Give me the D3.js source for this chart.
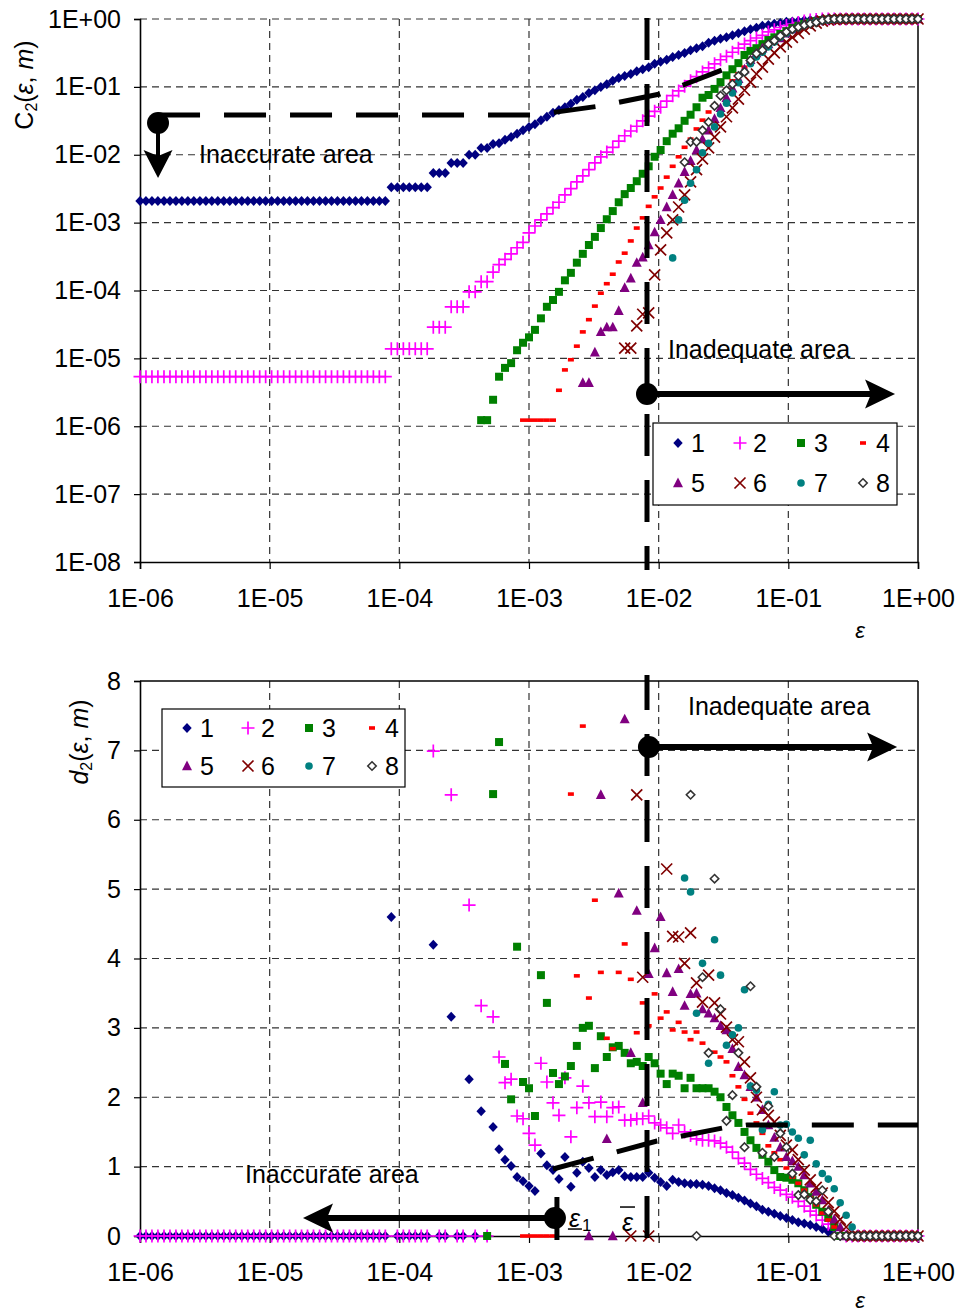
<!DOCTYPE html>
<html><head><meta charset="utf-8">
<script src="https://cdn.jsdelivr.net/npm/d3@7"></script>
<style>body{margin:0;background:#fff}svg{display:block}text{font-family:"Liberation Sans",Arial,sans-serif;fill:#000}</style>
</head><body><svg id="chart"></svg>
<script>
// ---------- DATA ----------
// log10(epsilon) of each point index k
const epsExp = [-6.000,-5.954,-5.908,-5.862,-5.815,-5.769,-5.723,-5.677,-5.631,-5.585,-5.538,-5.492,-5.446,-5.400,-5.354,-5.308,-5.262,-5.215,-5.169,-5.123,-5.077,-5.031,-4.985,-4.938,-4.892,-4.846,-4.800,-4.754,-4.708,-4.662,-4.615,-4.569,-4.523,-4.477,-4.431,-4.385,-4.338,-4.292,-4.246,-4.200,-4.154,-4.108,-4.062,-4.015,-3.969,-3.923,-3.877,-3.831,-3.785,-3.738,-3.692,-3.646,-3.600,-3.554,-3.508,-3.462,-3.415,-3.369,-3.323,-3.277,-3.231,-3.185,-3.138,-3.092,-3.046,-3.000,-2.954,-2.908,-2.862,-2.815,-2.769,-2.723,-2.677,-2.631,-2.585,-2.538,-2.492,-2.446,-2.400,-2.354,-2.308,-2.262,-2.215,-2.169,-2.123,-2.077,-2.031,-1.985,-1.938,-1.892,-1.846,-1.800,-1.754,-1.708,-1.662,-1.615,-1.569,-1.523,-1.477,-1.431,-1.385,-1.338,-1.292,-1.246,-1.200,-1.154,-1.108,-1.062,-1.015,-0.969,-0.923,-0.877,-0.831,-0.785,-0.738,-0.692,-0.646,-0.600,-0.554,-0.508,-0.462,-0.415,-0.369,-0.323,-0.277,-0.231,-0.185,-0.138,-0.092,-0.046,0.000];

const seriesNames = ["1","2","3","4","5","6","7","8"];
const seriesColors = ["#000080","#ff00ff","#008000","#ff0000","#800080","#800000","#008080","#333333"];

const xTickLabels = ["1E-06","1E-05","1E-04","1E-03","1E-02","1E-01","1E+00"];
const yTopTickLabels = ["1E-08","1E-07","1E-06","1E-05","1E-04","1E-03","1E-02","1E-01","1E+00"];
const yBotTickLabels = ["0","1","2","3","4","5","6","7","8"];

// top chart: log10 C2(eps, m), series m = 1..8, first index in c2Start
const c2Start = [0,0,57,64,74,81,89,91];
const c2Log1 = [-2.68,-2.68,-2.68,-2.68,-2.68,-2.68,-2.68,-2.68,-2.68,-2.68,-2.68,-2.68,-2.68,-2.68,-2.68,-2.68,-2.68,-2.68,-2.68,-2.68,-2.68,-2.68,-2.68,-2.68,-2.68,-2.68,-2.68,-2.68,-2.68,-2.68,-2.68,-2.68,-2.68,-2.68,-2.68,-2.68,-2.68,-2.68,-2.68,-2.68,-2.68,-2.68,
 -2.48,-2.48,-2.48,-2.48,-2.48,-2.48,-2.48,-2.27,-2.27,-2.27,-2.12,-2.12,-2.12,-2.00,-2.00,-1.90,-1.90,
 -1.84,-1.83,-1.78,-1.74,-1.69,-1.64,-1.59,-1.55,-1.49,-1.44,-1.38,-1.34,-1.30,-1.25,-1.19,-1.15,-1.09,-1.05,-1.00,-0.96,-0.91,-0.87,-0.84,-0.81,-0.77,-0.74,-0.71,-0.66,-0.63,-0.60,-0.56,-0.53,-0.50,-0.46,-0.43,-0.40,-0.35,-0.32,-0.29,-0.27,-0.24,-0.21,-0.18,-0.15,-0.13,-0.10,-0.09,-0.07,-0.06,-0.04,-0.035,-0.03,-0.02,-0.015,-0.01,-0.005,
 0,0,0,0,0,0,0,0,0,0,0,0,0,0,0,0];
const c2Log2 = [-5.27,-5.27,-5.27,-5.27,-5.27,-5.27,-5.27,-5.27,-5.27,-5.27,-5.27,-5.27,-5.27,-5.27,-5.27,-5.27,-5.27,-5.27,-5.27,-5.27,-5.27,-5.27,-5.27,-5.27,-5.27,-5.27,-5.27,-5.27,-5.27,-5.27,-5.27,-5.27,-5.27,-5.27,-5.27,-5.27,-5.27,-5.27,-5.27,-5.27,-5.27,-5.27,
 -4.86,-4.86,-4.86,-4.86,-4.86,-4.86,-4.86,-4.54,-4.54,-4.54,-4.24,-4.24,-4.24,-4.02,-4.02,-3.87,-3.87,
 -3.73,-3.62,-3.54,-3.46,-3.37,-3.29,-3.15,-3.05,-2.96,-2.87,-2.78,-2.70,-2.59,-2.50,-2.40,-2.31,-2.22,-2.12,-2.03,-1.96,-1.89,-1.80,-1.72,-1.65,-1.58,-1.50,-1.43,-1.36,-1.30,-1.21,-1.13,-1.06,-0.99,-0.91,-0.85,-0.78,-0.72,-0.66,-0.60,-0.55,-0.49,-0.43,-0.37,-0.32,-0.28,-0.24,-0.19,-0.16,-0.125,-0.096,-0.074,-0.052,-0.03,-0.015,-0.007,
 0,0,0,0,0,0,0,0,0,0,0,0,0,0,0,0,0];
const c2Log3 = [-5.91,-5.91,-5.61,-5.27,-5.14,-5.07,-4.88,-4.77,-4.69,-4.58,-4.41,-4.24,-4.14,-4.02,-3.85,-3.74,-3.59,-3.46,-3.33,-3.21,-3.08,-2.95,-2.83,-2.70,-2.58,-2.49,-2.39,-2.28,-2.17,-2.03,-1.93,-1.80,-1.69,-1.61,-1.50,-1.41,-1.30,-1.16,-1.12,-1.03,-0.93,-0.83,-0.74,-0.65,-0.53,-0.47,-0.43,-0.37,-0.31,-0.27,-0.22,-0.18,-0.13,-0.10,-0.07,-0.05,-0.03,-0.015,-0.007,-0.003,
 0,0,0,0,0,0,0,0,0,0,0,0,0,0];
const c2Log4 = [-5.91,-5.91,-5.91,-5.91,-5.91,-5.91,
 -5.47,-5.17,-5.02,-4.82,-4.61,-4.43,-4.23,-4.04,-3.90,-3.76,-3.58,-3.45,-3.27,-3.08,-2.93,-2.76,-2.62,-2.49,-2.33,-2.17,-2.03,-1.89,-1.77,-1.62,-1.49,-1.37,-1.27,-1.13,-1.03,-0.91,-0.81,-0.71,-0.60,-0.52,-0.44,-0.37,-0.31,-0.25,-0.21,-0.16,-0.12,-0.09,-0.06,-0.037,-0.022,-0.01,-0.004,
 0,0,0,0,0,0,0,0,0,0,0,0,0,0];
const c2Log5 = [-5.36,-5.36,-4.91,-4.61,-4.54,-4.54,-4.30,-3.96,-3.82,-3.59,-3.51,-3.33,-3.14,-2.96,-2.77,-2.59,-2.42,-2.25,-2.09,-1.93,-1.77,-1.64,-1.47,-1.31,-1.16,-1.02,-0.88,-0.74,-0.60,-0.50,-0.43,-0.37,-0.32,-0.28,-0.21,-0.15,-0.10,-0.06,-0.03,-0.015,
 0,0,0,0,0,0,0,0,0,0,0,0,0,0,0,0,0];
const c2Log6 = [-4.85,-4.85,-4.52,-4.35,-4.33,-3.77,-3.40,-3.15,-2.96,-2.77,-2.59,-2.40,-2.22,-2.06,-1.90,-1.74,-1.59,-1.44,-1.31,-1.18,-1.05,-0.93,-0.81,-0.71,-0.59,-0.50,-0.41,-0.34,-0.27,-0.21,-0.15,-0.10,-0.06,-0.03,-0.015,-0.007,-0.003,
 0,0,0,0,0,0,0,0,0,0,0,0,0];
const c2Log7 = [-3.52,-2.96,-2.67,-2.42,-2.22,-1.97,-1.83,-1.59,-1.40,-1.24,-1.09,-0.94,-0.78,-0.66,-0.56,-0.49,-0.41,-0.34,-0.27,-0.21,-0.16,-0.12,-0.09,-0.06,-0.037,-0.022,-0.015,-0.007,-0.003,
 0,0,0,0,0,0,0,0,0,0,0,0,0];
const c2Log8 = [-2.11,-1.81,-1.81,-1.64,-1.52,-1.28,-1.13,-1.05,-0.96,-0.84,-0.78,-0.61,-0.51,-0.46,-0.37,-0.32,-0.25,-0.19,-0.15,-0.12,-0.09,-0.07,-0.05,-0.02,-0.004,
 0,0,0,0,0,0,0,0,0,0,0,0,0,0,0];

// bottom chart: d2(eps, m), first index in d2Start
const d2Start = [0,0,58,64,75,82,90,92];
const d2Val1 = [0,0,0,0,0,0,0,0,0,0,0,0,0,0,0,0,0,0,0,0,0,0,0,0,0,0,0,0,0,0,0,0,0,0,0,0,0,0,0,0,0,0,
 4.6,0,0,0,0,0,0,4.2,0,0,3.16,0,0,2.26,0,1.80,0,
 1.57,1.25,1.10,1.01,0.85,0.79,0.72,0.65,1.19,1.02,0.95,0.82,1.14,0.71,0.91,1.07,0.98,0.85,0.95,0.88,0.92,0.95,0.86,0.85,0.85,0.85,
 0.91,0.84,0.78,0.72,0.81,0.78,0.76,0.75,0.75,0.74,0.72,
 0.69,0.66,0.62,0.59,0.55,0.51,0.47,0.43,0.38,0.35,0.32,0.29,0.26,0.23,0.20,0.18,0.16,0.13,0.10,0.06,0.02,
 0,0,0,0,0,0,0,0,0,0,0,0,0,0];
const d2Val2 = [0,0,0,0,0,0,0,0,0,0,0,0,0,0,0,0,0,0,0,0,0,0,0,0,0,0,0,0,0,0,0,0,0,0,0,0,0,0,0,0,0,0,
 null,0,0,0,0,0,0,6.99,0,0,6.36,0,0,4.77,0,3.32,0,
 3.16,2.58,2.21,2.26,1.73,1.69,1.48,1.31,2.49,2.22,1.92,1.74,2.28,1.43,1.85,2.16,1.92,1.72,1.93,1.72,1.85,1.86,1.67,1.67,1.69,1.69,
 1.73,1.63,1.60,1.56,1.48,1.60,1.50,1.45,1.40,1.38,1.38,1.37,1.34,1.28,1.21,1.12,1.05,0.96,0.89,0.83,0.77,0.70,0.66,0.60,0.56,0.50,0.43,0.36,0.30,0.23,0.17,0.11,0.04,
 0,0,0,0,0,0,0,0,0,0,0,0,0];
const d2Val3 = [0,6.37,7.12,2.48,1.97,4.17,2.22,2.13,1.73,3.76,3.36,2.35,2.19,2.3,2.45,2.74,3.0,3.03,2.42,2.88,2.58,2.72,2.74,2.64,2.49,2.51,2.45,2.58,2.49,2.34,2.19,2.34,2.31,2.13,2.28,2.13,2.13,2.13,2.08,2.00,1.86,1.74,1.63,1.50,1.38,1.27,1.17,1.07,0.95,0.85,0.84,0.81,0.76,0.66,0.56,0.45,0.35,0.26,0.13,
 0,0,0,0,0,0,0,0,0,0,0,0,0,0];
const d2Val4 = [0,0,0,0,0,0,null,null,
 6.37,3.75,7.35,3.43,4.84,3.80,2.85,2.70,3.80,4.21,3.70,2.93,3.36,3.03,3.49,3.14,3.23,2.97,3.08,2.94,2.83,2.94,2.78,2.65,2.65,2.58,2.51,2.31,2.15,1.97,1.77,1.63,1.48,1.30,1.20,1.10,0.98,0.85,0.76,0.66,0.55,0.45,0.33,0.23,0.13,
 0,0,0,0,0,0,0,0,0,0,0,0,0,0];
const d2Val5 = [0,null,6.36,1.40,0,4.94,7.45,2.64,4.69,1.92,3.78,4.15,4.60,3.79,3.52,3.85,3.32,3.49,3.5,3.27,3.21,3.14,3.03,2.97,2.7,2.44,2.32,2.15,2.0,1.82,1.6,1.42,1.28,
 1.14,1.08,1.0,0.88,0.76,0.64,0.52,0.37,0.24,0.13,
 0,0,0,0,0,0,0,0,0,0,0,0,0];
const d2Val6 = [0,6.36,3.73,0,null,null,5.29,4.32,4.31,3.93,4.37,3.65,3.37,3.76,3.36,3.2,3.01,2.83,2.80,2.51,2.28,2.0,1.82,1.74,1.64,1.45,1.31,1.24,1.10,0.95,0.81,
 0.70,0.62,0.48,0.36,0.24,0.13,
 0,0,0,0,0,0,0,0,0,0,0,0];
const d2Val7 = [null,5.16,4.96,3.21,3.93,2.49,4.27,3.76,2.75,2.9,3.0,3.55,2.16,2.1,1.53,1.9,2.08,1.60,1.61,1.50,1.41,1.17,1.38,1.04,0.9,0.82,0.68,0.48,0.30,0.13,
 0,0,0,0,0,0,0,0,0,0,0];
const d2Val8 = [6.36,0,3.73,2.64,5.15,3.27,1.66,2.03,2.64,1.28,3.6,2.15,1.20,1.87,1.14,1.48,1.28,0.9,0.59,0.6,0.52,0.5,0.66,0.35,0,
 0,0,0,0,0,0,0,0,0,0,0,0,0,0];

const c2Series = [c2Log1,c2Log2,c2Log3,c2Log4,c2Log5,c2Log6,c2Log7,c2Log8];
const d2Series = [d2Val1,d2Val2,d2Val3,d2Val4,d2Val5,d2Val6,d2Val7,d2Val8];

// annotation anchors (data units: log10 eps, value)
const epsBarExp = -2.09;
const topInaccDot = [-5.861,-1.532], topInaccArrowEnd = -2.343;
const topDashed = [[-5.861,-1.414],[-2.954,-1.414],[-2.453,-1.282],[-1.990,-1.105],[-1.512,-0.751]];
const topInadDot = [-2.09,-5.525], topInadArrowEnd = -0.177;
const botInadDot = [-2.075,7.05], botInadArrowEnd = -0.161;
const botDashed = [[-2.815,0.966],[-2.013,1.369],[-1.504,1.557],[-1.319,1.600],[0,1.600]];
const botInaccDot = [-2.800,0.259], botInaccArrowEnd = -4.743;

// ---------- DRAW ----------
const W=959,H=1312;
const svg=d3.select("#chart").attr("width",W).attr("height",H);
const x=d3.scaleLog().domain([1e-6,1]).range([140,918]);
const yT=d3.scaleLog().domain([1e-8,1]).range([562,19]);
const yB=d3.scaleLinear().domain([0,8]).range([1236,681]);
const P=e=>Math.pow(10,e);
const xTicks=[1e-6,1e-5,1e-4,1e-3,1e-2,1e-1,1];
const yTopTicks=[1e-8,1e-7,1e-6,1e-5,1e-4,1e-3,1e-2,1e-1,1];
const yBotTicks=[0,1,2,3,4,5,6,7,8];
const FS=25;

const markerPath=[
 "M0,-5L4.7,0L0,5L-4.7,0Z",
 "M-6.5,0H6.5M0,-6.5V6.5",
 "M-4,-4H4V4H-4Z",
 "M-3,-1.8H3V1.8H-3Z",
 "M0,-5.5L5,4.2H-5Z",
 "M-5.5,-5.5L5.5,5.5M-5.5,5.5L5.5,-5.5",
 "M3.8,0A3.8,3.8 0 1,1 -3.8,0A3.8,3.8 0 1,1 3.8,0Z",
 "M0,-4.2L4.2,0L0,4.2L-4.2,0Z"];
function styleMarker(sel,i){
  const c=seriesColors[i];
  if(i===1||i===5){sel.attr("fill","none").attr("stroke",c).attr("stroke-width",1.7);}
  else if(i===7){sel.attr("fill","#fff").attr("stroke",c).attr("stroke-width",1.6);}
  else sel.attr("fill",c).attr("stroke","none");
}

function frame(g,yScale,yTicks,yLabels,yGrid,top,bottom,boxTop){
  const gg=g.append("g").attr("stroke","#333").attr("stroke-width",1.2).attr("stroke-dasharray","7,5");
  yGrid.forEach(v=>gg.append("line").attr("x1",x(1e-6)).attr("x2",x(1)).attr("y1",yScale(v)).attr("y2",yScale(v)));
  [1e-5,1e-4,1e-3,1e-2,1e-1].forEach(v=>gg.append("line").attr("x1",x(v)).attr("x2",x(v)).attr("y1",top).attr("y2",bottom));
  g.append("line").attr("x1",x(1)).attr("x2",x(1)).attr("y1",top).attr("y2",bottom).attr("stroke","#000").attr("stroke-width",1.5);
  if(boxTop) g.append("line").attr("x1",x(1e-6)).attr("x2",x(1)).attr("y1",top).attr("y2",top).attr("stroke","#000").attr("stroke-width",1.5);
  const ya=g.append("g").attr("transform",`translate(${x(1e-6)},0)`)
   .call(d3.axisLeft(yScale).tickValues(yTicks).tickFormat((d,i)=>yLabels[i]).tickSizeOuter(0).tickSize(6).tickPadding(13));
  const xa=g.append("g").attr("transform",`translate(0,${bottom})`)
   .call(d3.axisBottom(x).tickValues(xTicks).tickFormat((d,i)=>xTickLabels[i]).tickSizeOuter(0).tickSize(7).tickPadding(20));
  [ya,xa].forEach(a=>{a.select(".domain").attr("stroke","#000").attr("stroke-width",1.6);
    a.selectAll(".tick line").attr("stroke","#000").attr("stroke-width",1.2);
    a.selectAll("text").attr("font-size",FS).attr("font-family",'"Liberation Sans",Arial,sans-serif').attr("fill","#000");});
}

const gTop=svg.append("g"), gBot=svg.append("g");
frame(gTop,yT,yTopTicks,yTopTickLabels,[1e-7,1e-6,1e-5,1e-4,1e-3,1e-2,1e-1,1],yT(1),yT(1e-8),false);
frame(gBot,yB,yBotTicks,yBotTickLabels,[1,2,3,4,5,6,7],yB(8),yB(0),true);

function plot(g,series,starts,yMap){
  series.forEach((arr,i)=>{
    const pts=[];
    arr.forEach((v,j)=>{const k=starts[i]+j; if(v!==null&&k<epsExp.length) pts.push([epsExp[k],v]);});
    g.append("g").selectAll("path").data(pts).join("path")
      .attr("d",markerPath[i])
      .attr("transform",d=>`translate(${x(P(d[0]))},${yMap(d[1])})`)
      .call(styleMarker,i);
  });
}
plot(gTop,c2Series,c2Start,v=>yT(P(v)));
plot(gBot,d2Series,d2Start,v=>yB(v));

const dashStyle=s=>s.attr("stroke","#000").attr("stroke-width",5).attr("fill","none").attr("stroke-dasharray","42,24");
gTop.append("line").attr("x1",x(P(epsBarExp))).attr("x2",x(P(epsBarExp))).attr("y1",yT(1)-1).attr("y2",yT(1e-8)+8).call(dashStyle);
gBot.append("line").attr("x1",x(P(epsBarExp))).attr("x2",x(P(epsBarExp))).attr("y1",yB(8)-6).attr("y2",yB(0)+4).call(dashStyle).attr("stroke-dashoffset",7);
const lineT=d3.line().x(d=>x(P(d[0]))).y(d=>yT(P(d[1])));
gTop.append("path").attr("d",lineT(topDashed)).call(dashStyle);
const lineB=d3.line().x(d=>x(P(d[0]))).y(d=>yB(d[1]));
gBot.append("path").attr("d",lineB(botDashed)).call(dashStyle);

function arrowH(g,x0,x1,y,w){
  const dir=Math.sign(x1-x0);
  g.append("line").attr("x1",x0).attr("x2",x1-dir*20).attr("y1",y).attr("y2",y).attr("stroke","#000").attr("stroke-width",w);
  g.append("path").attr("d",`M${x1},${y}L${x1-dir*30},${y-14.5}L${x1-dir*24},${y}L${x1-dir*30},${y+14.5}Z`).attr("fill","#000");
}
function arrowV(g,xx,y0,y1,w){
  g.append("line").attr("x1",xx).attr("x2",xx).attr("y1",y0).attr("y2",y1-18).attr("stroke","#000").attr("stroke-width",w);
  g.append("path").attr("d",`M${xx},${y1}L${xx-14.5},${y1-28}L${xx},${y1-22}L${xx+14.5},${y1-28}Z`).attr("fill","#000");
}
{
  const cx=x(P(topInaccDot[0])), cy=yT(P(topInaccDot[1]));
  arrowV(gTop,cx,cy,yT(P(topInaccArrowEnd)),4);
  gTop.append("circle").attr("cx",cx).attr("cy",cy).attr("r",11).attr("fill","#000");
}
{
  const cx=x(P(topInadDot[0])), cy=yT(P(topInadDot[1]));
  arrowH(gTop,cx,x(P(topInadArrowEnd)),cy,6);
  gTop.append("circle").attr("cx",cx).attr("cy",cy).attr("r",11).attr("fill","#000");
}
{
  const cx=x(P(botInadDot[0])), cy=yB(botInadDot[1]);
  arrowH(gBot,cx,x(P(botInadArrowEnd)),cy,6);
  gBot.append("circle").attr("cx",cx).attr("cy",cy).attr("r",11).attr("fill","#000");
}
{
  const cx=x(P(botInaccDot[0])), cy=yB(botInaccDot[1]);
  arrowH(gBot,cx,x(P(botInaccArrowEnd)),cy,6);
  gBot.append("line").attr("x1",cx+2).attr("x2",cx+2).attr("y1",yB(0.562)).attr("y2",yB(0)+4).attr("stroke","#000").attr("stroke-width",5);
  gBot.append("circle").attr("cx",cx).attr("cy",cy).attr("r",11).attr("fill","#000");
  const t1=gBot.append("text").attr("x",cx+14).attr("y",cy+9).attr("font-size",FS);
  t1.append("tspan").text("ε").attr("font-style","italic");
  t1.append("tspan").text("1").attr("font-size",17).attr("dy",4).attr("dx",2);
  gBot.append("line").attr("x1",cx+13).attr("x2",cx+27).attr("y1",cy+11).attr("y2",cy+11).attr("stroke","#000").attr("stroke-width",1.5);
  const ex=x(P(-2.283));
  gBot.append("text").attr("x",ex).attr("y",cy+13).attr("font-size",FS).attr("font-style","italic").text("ε");
  gBot.append("line").attr("x1",ex-2).attr("x2",ex+13).attr("y1",cy-11).attr("y2",cy-11).attr("stroke","#000").attr("stroke-width",1.5);
}
gTop.append("text").attr("x",x(P(-5.545))).attr("y",yT(P(-2.004))+8).attr("font-size",FS).text("Inaccurate area");
gTop.append("text").attr("x",x(P(-1.928))).attr("y",yT(P(-4.877))+8).attr("font-size",FS).text("Inadequate area");
gBot.append("text").attr("x",x(P(-1.774))).attr("y",yB(7.625)+8).attr("font-size",FS).text("Inadequate area");
gBot.append("text").attr("x",x(P(-5.190))).attr("y",yB(0.879)+8).attr("font-size",FS).text("Inaccurate area");

function legend(g,x0,y0,w,h,colX,rowY){
  g.append("rect").attr("x",x0).attr("y",y0).attr("width",w).attr("height",h).attr("fill","#fff").attr("stroke","#000").attr("stroke-width",1.2);
  seriesNames.forEach((n,i)=>{
    const cx=x0+colX[i%4], cy=y0+rowY[Math.floor(i/4)];
    g.append("path").attr("d",markerPath[i]).attr("transform",`translate(${cx},${cy})`).call(styleMarker,i);
    g.append("text").attr("x",cx+13).attr("y",cy+9).attr("font-size",FS).text(n);
  });
}
legend(gTop,653,423,244,82,[25,87,148,210],[20,60]);
legend(gBot,162,709,243,78,[25,86,147,210],[19,57]);

function yTitle(g,cx,cy,first,italicFirst){
  const t=g.append("text").attr("transform",`translate(${cx},${cy}) rotate(-90)`).attr("text-anchor","middle").attr("font-size",FS);
  t.append("tspan").text(first).attr("font-style",italicFirst?"italic":"normal");
  t.append("tspan").text("2").attr("font-size",16).attr("dy",4);
  t.append("tspan").text("(").attr("dy",-4);
  t.append("tspan").text("ε").attr("font-style","italic");
  t.append("tspan").text(", ");
  t.append("tspan").text("m").attr("font-style","italic");
  t.append("tspan").text(")");
}
yTitle(gTop,33,85,"C",false);
yTitle(gBot,88,742,"d",true);
gTop.append("text").attr("x",860).attr("y",638).attr("font-size",22).attr("font-style","italic").attr("text-anchor","middle").text("ε");
gBot.append("text").attr("x",860).attr("y",1308).attr("font-size",22).attr("font-style","italic").attr("text-anchor","middle").text("ε");
</script></body></html>
